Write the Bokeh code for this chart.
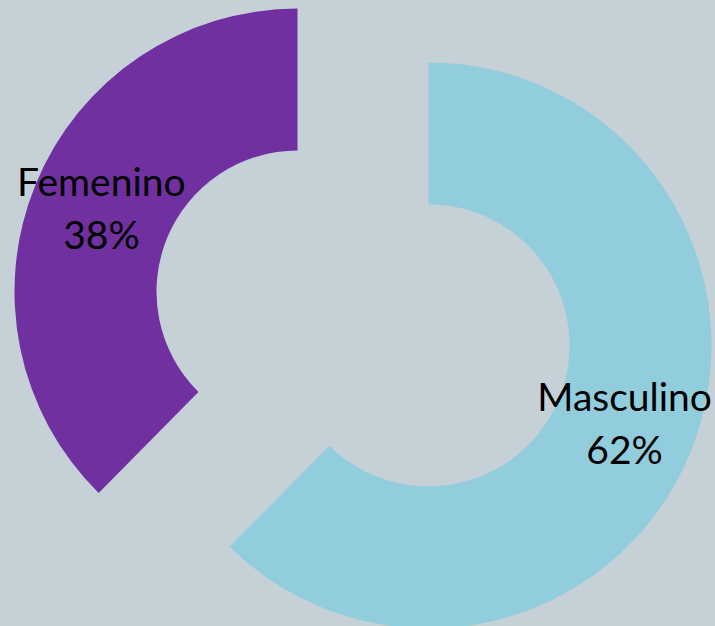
import numpy as np
from bokeh.plotting import figure
from bokeh.models import Range1d, ColumnDataSource
from bokeh.core.properties import value
from bokeh.embed import file_html
from bokeh.resources import INLINE

# ---- data ----
categories = ["Masculino", "Femenino"]
shares = [62.4, 37.6]
colors = ["#92CDDD", "#7030A0"]

# ---- layout (pixel-like data units, y up) ----
W, H = 715, 626
BG = "#C5D1D7"
cx, cy = 362.5, H - 318.0       # common centre before exploding
explode = 70.8
r_in, r_out = 141, 283
r_label = 212

vals = np.array(shares, dtype=float)
frac = vals / vals.sum()
cum = np.concatenate([[0], np.cumsum(frac)[:-1]])
start = np.pi / 2 - 2 * np.pi * cum
end = start - 2 * np.pi * frac
mid = (start + end) / 2
xs = cx + explode * np.cos(mid)
ys = cy + explode * np.sin(mid)
lx = xs + r_label * np.cos(mid)
ly = ys + r_label * np.sin(mid)
pct = [f"{int(round(f * 100))}%" for f in frac]

src = ColumnDataSource(dict(x=xs, y=ys, start=start, end=end, color=colors,
                            lx=lx, ly=ly, name=categories, pct=pct))

p = figure(width=W, height=H, output_backend="svg", toolbar_location=None,
           x_range=Range1d(0, W), y_range=Range1d(0, H),
           min_border=0, outline_line_color=None,
           background_fill_color=BG, border_fill_color=BG)
p.axis.visible = False
p.grid.visible = False

p.annular_wedge(x="x", y="y", inner_radius=r_in, outer_radius=r_out,
                start_angle="start", end_angle="end", direction="clock",
                fill_color="color", line_color=None, source=src)

font = value("Lato")
p.text(x="lx", y="ly", text="name", source=src, text_align="center",
       text_baseline="alphabetic", y_offset=-30, text_font=font,
       text_font_size="39px", text_color="black")
p.text(x="lx", y="ly", text="pct", source=src, text_align="center",
       text_baseline="alphabetic", y_offset=23, text_font=font,
       text_font_size="39px", text_color="black")

html = file_html(p, INLINE)
html = html.replace("</head>",
                    "<style>html,body{margin:0;padding:0;overflow:hidden;background:%s}</style></head>" % BG, 1)
open("out.html", "w").write(html)
